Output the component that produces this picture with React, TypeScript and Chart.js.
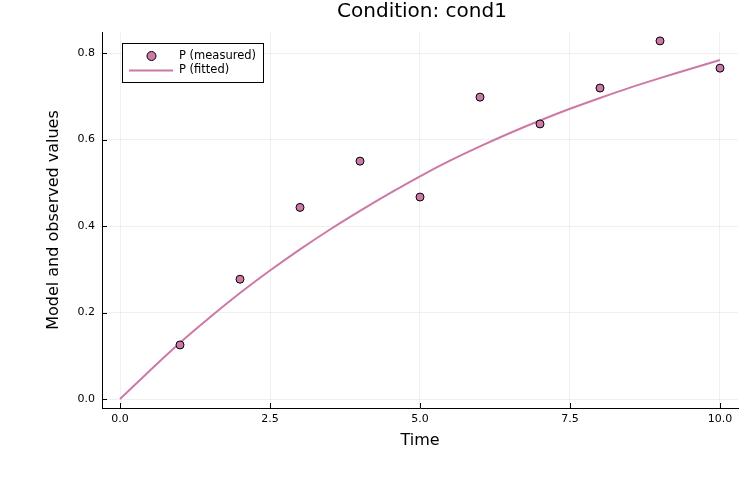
import React, { useEffect, useRef } from "react";
import { Chart, registerables } from "chart.js";

Chart.register(...registerables);

const measuredTime = [1, 2, 3, 4, 5, 6, 7, 8, 9, 10];
const measuredP = [0.125, 0.277, 0.443, 0.55, 0.467, 0.698, 0.636, 0.719, 0.828, 0.765];

const fittedTime = [0, 0.5, 1, 1.5, 2, 2.5, 3, 3.5, 4, 4.5, 5, 5.5, 6, 6.5, 7, 7.5, 8, 8.5, 9, 9.5, 10];
const fittedP = [0, 0.066, 0.13, 0.189, 0.245, 0.297, 0.346, 0.392, 0.435, 0.476, 0.515, 0.551, 0.584, 0.615, 0.644, 0.671, 0.696, 0.72, 0.742, 0.763, 0.784];

const xTicks = [0, 2.5, 5, 7.5, 10];
const yTicks = [0, 0.2, 0.4, 0.6, 0.8];

const COLOR = "#CC79A7";
const FONT = "DejaVu Sans";

const decor = {
  id: "decor",
  afterDraw(chart: any) {
    const { ctx, chartArea } = chart;
    const xs = chart.scales.x;
    const ys = chart.scales.y;
    ctx.save();
    ctx.strokeStyle = "#000";
    ctx.lineWidth = 1;
    xTicks.forEach((t) => {
      const px = Math.round(xs.getPixelForValue(t)) + 0.5;
      ctx.beginPath();
      ctx.moveTo(px, chartArea.bottom);
      ctx.lineTo(px, chartArea.bottom - 5);
      ctx.stroke();
    });
    yTicks.forEach((t) => {
      const py = Math.round(ys.getPixelForValue(t)) + 0.5;
      ctx.beginPath();
      ctx.moveTo(chartArea.left, py);
      ctx.lineTo(chartArea.left + 5, py);
      ctx.stroke();
    });
    // title
    ctx.fillStyle = "#000";
    ctx.font = `20px "${FONT}"`;
    ctx.textAlign = "center";
    ctx.textBaseline = "middle";
    ctx.fillText("Condition: cond1", (chartArea.left + chartArea.right) / 2 + 2, 12);
    // axis titles
    ctx.font = `16px "${FONT}"`;
    ctx.fillText("Time", (chartArea.left + chartArea.right) / 2, 441);
    ctx.save();
    ctx.translate(54, (chartArea.top + chartArea.bottom) / 2);
    ctx.rotate(-Math.PI / 2);
    ctx.fillText("Model and observed values", 0, 0);
    ctx.restore();
    // legend
    const lx = 122.5, ly = 43.5, lw = 141, lh = 39;
    ctx.fillStyle = "#fff";
    ctx.fillRect(lx, ly, lw, lh);
    ctx.strokeStyle = "#000";
    ctx.lineWidth = 1;
    ctx.strokeRect(lx, ly, lw, lh);
    ctx.beginPath();
    ctx.arc(151.5, 56, 4.5, 0, Math.PI * 2);
    ctx.fillStyle = COLOR;
    ctx.fill();
    ctx.stroke();
    ctx.strokeStyle = COLOR;
    ctx.lineWidth = 2;
    ctx.beginPath();
    ctx.moveTo(129, 70.5);
    ctx.lineTo(173, 70.5);
    ctx.stroke();
    ctx.fillStyle = "#000";
    ctx.font = `11.5px "${FONT}"`;
    ctx.textAlign = "left";
    ctx.fillText("P (measured)", 179, 56);
    ctx.fillText("P (fitted)", 179, 70.5);
    ctx.restore();
  },
};

export default function App() {
  const ref = useRef<HTMLCanvasElement>(null);
  useEffect(() => {
    if (!ref.current) return;
    const chart = new Chart(ref.current, {
      type: "scatter",
      data: {
        datasets: [
          {
            label: "P (fitted)",
            data: fittedTime.map((t, i) => ({ x: t, y: fittedP[i] })),
            showLine: true,
            borderColor: COLOR,
            borderWidth: 2,
            pointRadius: 0,
            fill: false,
            tension: 0.3,
            order: 2,
          },
          {
            label: "P (measured)",
            data: measuredTime.map((t, i) => ({ x: t, y: measuredP[i] })),
            backgroundColor: COLOR,
            borderColor: "#000",
            borderWidth: 1,
            pointRadius: 4,
            order: 1,
          },
        ],
      },
      options: {
        responsive: false,
        animation: false,
        layout: { padding: { top: 32, right: 12, left: 0, bottom: 0 } },
        plugins: { legend: { display: false }, tooltip: { enabled: false }, title: { display: false } },
        scales: {
          x: {
            type: "linear",
            min: -0.3,
            max: 10.3,
            afterBuildTicks: (s: any) => {
              s.ticks = xTicks.map((v) => ({ value: v }));
            },
            afterFit: (s: any) => {
              s.height = 92;
            },
            ticks: {
              color: "#000",
              font: { family: FONT, size: 11 },
              padding: 5,
              callback: (v: any) => Number(v).toFixed(1),
              maxRotation: 0,
            },
            grid: { color: "rgba(0,0,0,0.06)", tickLength: 0, drawTicks: false },
            border: { display: true, color: "#000", width: 1 },
          },
          y: {
            type: "linear",
            min: -0.0208,
            max: 0.8486,
            afterBuildTicks: (s: any) => {
              s.ticks = yTicks.map((v) => ({ value: v }));
            },
            afterFit: (s: any) => {
              s.width = 102;
            },
            ticks: {
              color: "#000",
              font: { family: FONT, size: 11 },
              padding: 7,
              callback: (v: any) => Number(v).toFixed(1),
            },
            grid: { color: "rgba(0,0,0,0.06)", tickLength: 0, drawTicks: false },
            border: { display: true, color: "#000", width: 1 },
          },
        },
      },
      plugins: [decor],
    });
    return () => chart.destroy();
  }, []);
  return (
    <div style={{ position: "fixed", left: 0, top: 0, width: 750, height: 500, background: "#fff" }}>
      <canvas ref={ref} width={750} height={500} />
    </div>
  );
}
